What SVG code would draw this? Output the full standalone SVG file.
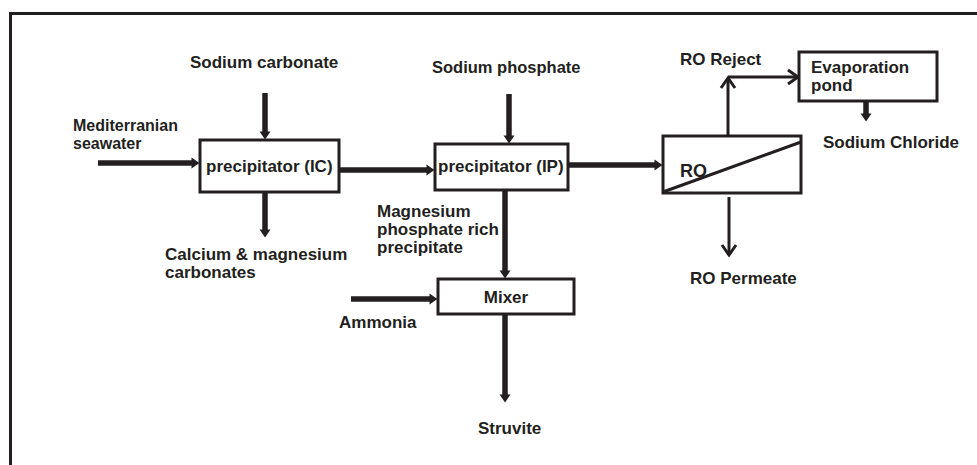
<svg xmlns="http://www.w3.org/2000/svg" width="977" height="465" viewBox="0 0 977 465">
<style>
text{font-family:"Liberation Sans",Arial,sans-serif;font-weight:bold;font-size:17px;fill:#231f20}
.box{fill:#fff;stroke:#231f20;stroke-width:3}
.thick{stroke:#231f20;stroke-width:5.5;fill:none;marker-end:url(#tri)}
.thin{stroke:#231f20;stroke-width:3;fill:none}
.frame{stroke:#231f20;stroke-width:3;fill:none}
</style>
<defs>
<marker id="tri" markerUnits="userSpaceOnUse" markerWidth="10" markerHeight="12" refX="0.5" refY="6" orient="auto" overflow="visible">
<path d="M0,0.5 L8,6 L0,11.5 z" fill="#231f20"/>
</marker>
<marker id="chev" markerUnits="userSpaceOnUse" markerWidth="14" markerHeight="16" refX="11" refY="7" orient="auto" overflow="visible">
<path d="M1,0 L11,7 L1,14" fill="none" stroke="#231f20" stroke-width="3"/>
</marker>
</defs>
<rect width="977" height="465" fill="#fff"/>
<path class="frame" d="M10.5,465 V13.5 H977"/>

<g id="connectors">
<line class="thick" x1="98" y1="163" x2="192" y2="163"/>
<line class="thick" x1="265" y1="93" x2="265" y2="132"/>
<line class="thick" x1="265" y1="192" x2="265" y2="230"/>
<line class="thick" x1="339" y1="170" x2="427" y2="170"/>
<line class="thick" x1="509" y1="94" x2="509" y2="136"/>
<line class="thick" x1="568" y1="165" x2="655" y2="165"/>
<line class="thick" x1="505" y1="190" x2="505" y2="271"/>
<line class="thick" x1="351" y1="299" x2="430" y2="299"/>
<line class="thick" x1="505" y1="314" x2="505" y2="395"/>
<line class="thick" x1="866" y1="101" x2="866" y2="114"/>
<line class="thin" x1="728" y1="136" x2="728" y2="78" marker-end="url(#chev)"/>
<line class="thin" x1="728" y1="77" x2="798" y2="77" marker-end="url(#chev)"/>
<line class="thin" x1="729" y1="197" x2="729" y2="255" marker-end="url(#chev)"/>
</g>

<g id="seawater"><text x="73" y="131" style="font-size:16px">Mediterranian</text><text x="73" y="149" style="font-size:16px">seawater</text></g>
<g id="sodium-carbonate"><text x="190" y="68">Sodium carbonate</text></g>
<g id="precipitator-ic"><rect class="box" x="200" y="140" width="139" height="52"/><text x="206" y="172">precipitator (IC)</text></g>
<g id="carbonates"><text x="165" y="260">Calcium &amp; magnesium</text><text x="165" y="278">carbonates</text></g>
<g id="sodium-phosphate"><text x="432" y="73" style="font-size:16.5px">Sodium phosphate</text></g>
<g id="precipitator-ip"><rect class="box" x="435" y="144" width="133" height="46"/><text x="438" y="172">precipitator (IP)</text></g>
<g id="mg-precipitate"><text x="377" y="217">Magnesium</text><text x="377" y="235">phosphate rich</text><text x="377" y="253">precipitate</text></g>
<g id="mixer"><rect class="box" x="438" y="279" width="136" height="35"/><text x="506" y="303" text-anchor="middle">Mixer</text></g>
<g id="ammonia"><text x="339" y="328">Ammonia</text></g>
<g id="struvite"><text x="478" y="434">Struvite</text></g>
<g id="ro"><rect class="box" x="663" y="136" width="138" height="57"/><line x1="663" y1="192" x2="801" y2="142" stroke="#231f20" stroke-width="3"/><text x="680" y="177" style="font-size:18px">RO</text></g>
<g id="ro-reject"><text x="680" y="65">RO Reject</text></g>
<g id="evaporation-pond"><rect class="box" x="799" y="52" width="138" height="49"/><text x="811" y="73">Evaporation</text><text x="811" y="91">pond</text></g>
<g id="sodium-chloride"><text x="823" y="148">Sodium Chloride</text></g>
<g id="ro-permeate"><text x="690" y="284">RO Permeate</text></g>
</svg>
